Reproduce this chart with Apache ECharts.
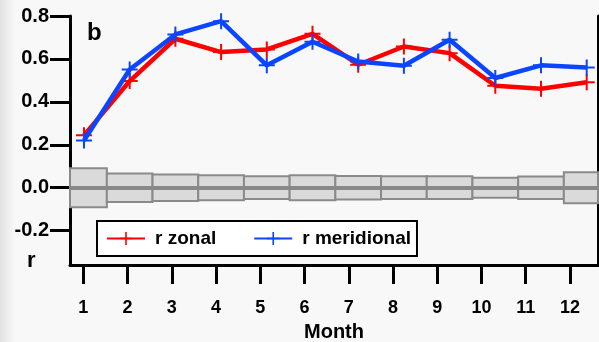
<!DOCTYPE html>
<html>
<head>
<meta charset="utf-8">
<script src="https://cdn.jsdelivr.net/npm/echarts@6/dist/echarts.min.js"></script>
<style>
html,body{margin:0;padding:0;background:#f8f8f8;}
#c{width:599px;height:342px;}
</style>
</head>
<body>
<div id="c"></div>
<script>
var months = [1,2,3,4,5,6,7,8,9,10,11,12];
var monthTicks = [1,2,3,4,5,6,7,8,9,10,11,12];
var yTicks = [-0.2, 0, 0.2, 0.4, 0.6, 0.8];
var rZonal = [0.244, 0.497, 0.694, 0.632, 0.644, 0.717, 0.573, 0.658, 0.627, 0.475, 0.461, 0.491];
var rMeridional = [0.220, 0.551, 0.714, 0.776, 0.570, 0.680, 0.588, 0.568, 0.689, 0.511, 0.570, 0.560];
var sigHalf = [0.091, 0.066, 0.062, 0.058, 0.053, 0.058, 0.055, 0.053, 0.053, 0.047, 0.052, 0.072];

var FONT = 'Liberation Sans, Arial, Helvetica, sans-serif';
var plusPath = 'path://M7,0h2v7h7v2h-7v7h-2v-7h-7v-2h7z';

var chart = echarts.init(document.getElementById('c'), null, {renderer:'canvas'});

var boxData = months.map(function(m, i){ return [m, sigHalf[i]]; });

var option = {
  animation: false,
  backgroundColor: new echarts.graphic.LinearGradient(0,0,1,0,[
    {offset:0, color:'#e2e2e2'},
    {offset:0.025, color:'#f8f8f8'},
    {offset:1, color:'#f8f8f8'}
  ]),
  textStyle: {fontFamily: FONT},
  grid: {left:70, right:1, top:16, bottom:77, containLabel:false, outerBoundsMode:'none'},
  xAxis: [{
    type:'value', min:0.7, max:12.633, position:'bottom',
    name:'Month', nameLocation:'middle', nameGap:57,
    nameTextStyle:{fontFamily:FONT, fontWeight:'bold', fontSize:20, color:'#000'},
    axisLine:{show:true, onZero:false, lineStyle:{color:'#000', width:3}},
    axisTick:{show:true, inside:false, length:19, lineStyle:{color:'#000', width:3}, customValues: monthTicks},
    axisLabel:{fontFamily:FONT, fontWeight:'bold', fontSize:18, color:'#000', margin:34, customValues: monthTicks},
    splitLine:{show:false}
  },{
    type:'value', min:0.694, max:12.247, show:false,
    splitLine:{show:false}
  }],
  yAxis: [{
    type:'value', min:-0.36, max:0.8, position:'left',
    axisLine:{show:true, onZero:false, lineStyle:{color:'#000', width:3}},
    axisTick:{show:true, inside:false, length:20, lineStyle:{color:'#000', width:3}, customValues: yTicks},
    axisLabel:{fontFamily:FONT, fontWeight:'bold', fontSize:20, color:'#000', margin:21, customValues: yTicks,
      formatter:function(v){ return (Math.abs(v)<1e-9?0:v).toFixed(1); }},
    splitLine:{show:false}
  },{
    type:'value', min:-0.36, max:0.8, position:'right',
    axisLine:{show:true, onZero:false, lineStyle:{color:'#000', width:3}},
    axisTick:{show:false}, axisLabel:{show:false}, splitLine:{show:false}
  }],
  legend: {
    left:97, top:221,
    data:['r zonal','r meridional'],
    backgroundColor:'#fff', borderColor:'#000', borderWidth:2,
    padding:[8,6,8,9],
    itemWidth:38, itemHeight:16, itemGap:37,
    textStyle:{fontFamily:FONT, fontWeight:'bold', fontSize:19, color:'#000', padding:[0,0,0,5]}
  },
  graphic: [
    {type:'text', left:87, top:21, style:{text:'b', fontFamily:FONT, fontWeight:'bold', fontSize:24, fill:'#000'}},
    {type:'text', left:27, top:250, style:{text:'r', fontFamily:FONT, fontWeight:'bold', fontSize:22, fill:'#000'}}
  ],
  series: [{
    type:'custom', name:'sig', xAxisIndex:1, yAxisIndex:0, z:1,
    data: boxData,
    renderItem: function(params, api){
      var m = api.value(0), h = api.value(1);
      var p1 = api.coord([m-0.5, h]);
      var p2 = api.coord([m+0.5, -h]);
      var rect = echarts.graphic.clipRectByRect(
        {x:p1[0], y:p1[1], width:p2[0]-p1[0], height:p2[1]-p1[1]},
        {x:params.coordSys.x, y:params.coordSys.y, width:params.coordSys.width, height:params.coordSys.height});
      if(!rect) return null;
      return {type:'rect', shape:rect, style:{fill:'#dadada', stroke:'#8a8a8a', lineWidth:2}};
    },
    markLine: {
      silent:true, symbol:['none','none'], label:{show:false},
      lineStyle:{color:'#888', width:4, type:'solid'},
      data:[{yAxis:0}]
    }
  },{
    type:'line', name:'r zonal', xAxisIndex:1, yAxisIndex:0, z:3,
    data: months.map(function(m,i){ return [m, rZonal[i]]; }),
    symbol: plusPath, symbolSize:16,
    lineStyle:{color:'#ff0000', width:4.5},
    itemStyle:{color:'#ff0000'}
  },{
    type:'line', name:'r meridional', xAxisIndex:1, yAxisIndex:0, z:4,
    data: months.map(function(m,i){ return [m, rMeridional[i]]; }),
    symbol: plusPath, symbolSize:16,
    lineStyle:{color:'#0a46ff', width:4.5},
    itemStyle:{color:'#0a46ff'}
  }]
};
chart.setOption(option);
</script>
</body>
</html>
